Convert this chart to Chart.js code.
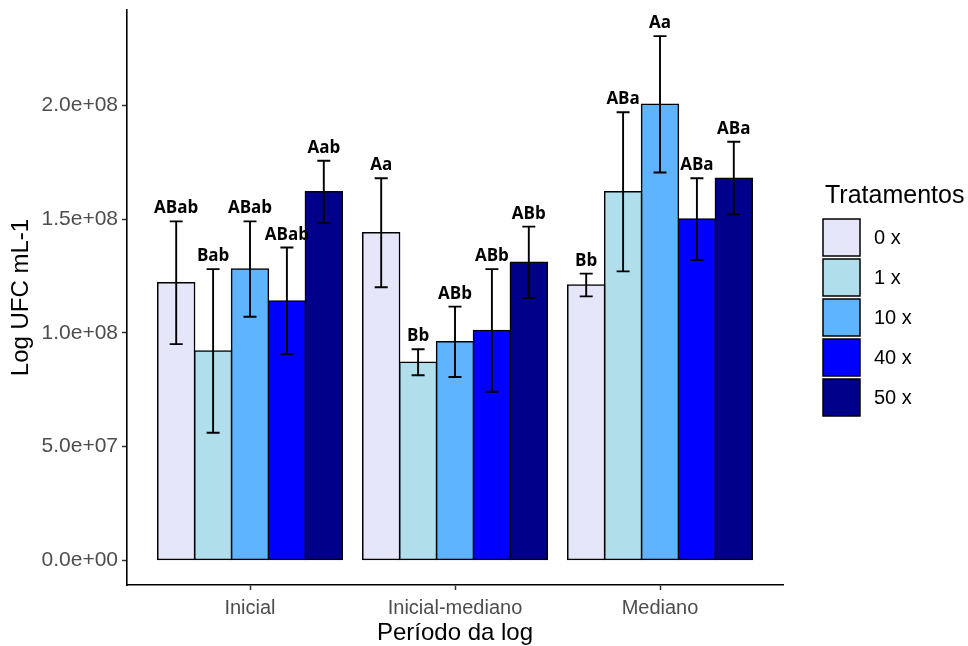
<!DOCTYPE html>
<html lang="pt">
<head>
<meta charset="utf-8">
<title>Log UFC mL-1 por período da log</title>
<script src="https://cdn.jsdelivr.net/npm/chart.js@4.4.1/dist/chart.umd.min.js"></script>
<style>
  html, body { margin: 0; padding: 0; background: #fff; }
  canvas { display: block; }
</style>
</head>
<body>
<canvas id="grafico" width="968" height="646"></canvas>
<script>
const periodos = ['Inicial', 'Inicial-mediano', 'Mediano'];
const tratamentos = ['0 x', '1 x', '10 x', '40 x', '50 x'];
const cores = ['#E6E6FA', '#B0DEEA', '#5EB4FF', '#0000FF', '#00008B'];

// médias por tratamento, na ordem dos períodos
const media0x  = [1.22e8, 1.44e8, 1.21e8];
const media1x  = [0.92e8, 0.87e8, 1.62e8];
const media10x = [1.28e8, 0.96e8, 2.005e8];
const media40x = [1.14e8, 1.01e8, 1.50e8];
const media50x = [1.62e8, 1.31e8, 1.68e8];

// erro padrão
const erro0x  = [0.27e8, 0.24e8, 0.05e8];
const erro1x  = [0.36e8, 0.057e8, 0.35e8];
const erro10x = [0.21e8, 0.155e8, 0.30e8];
const erro40x = [0.235e8, 0.27e8, 0.18e8];
const erro50x = [0.137e8, 0.157e8, 0.16e8];

// letras do teste de médias
const letras0x  = ['ABab', 'Aa', 'Bb'];
const letras1x  = ['Bab', 'Bb', 'ABa'];
const letras10x = ['ABab', 'ABb', 'Aa'];
const letras40x = ['ABab', 'ABb', 'ABa'];
const letras50x = ['Aab', 'ABb', 'ABa'];

const yTicks = [0, 5e7, 1e8, 1.5e8, 2e8];
const yTickLabels = ['0.0e+00', '5.0e+07', '1.0e+08', '1.5e+08', '2.0e+08'];

const medias = [media0x, media1x, media10x, media40x, media50x];
const erros = [erro0x, erro1x, erro10x, erro40x, erro50x];
const letras = [letras0x, letras1x, letras10x, letras40x, letras50x];

const datasets = tratamentos.map((t, i) => ({
  label: t,
  data: medias[i].map((v, j) => ({ x: j, y: v })),
  erros: erros[i],
  letras: letras[i],
  backgroundColor: cores[i],
  borderColor: '#000',
  borderWidth: 1.5,
  borderSkipped: false,
  inflateAmount: 0.75,
  categoryPercentage: 0.9,
  barPercentage: 1
}));

// barras de erro + letras acima de cada barra
const barrasErro = {
  id: 'barrasErro',
  afterDatasetsDraw(chart) {
    const { ctx } = chart;
    const y = chart.scales.y;
    ctx.save();
    ctx.strokeStyle = '#000';
    ctx.lineWidth = 1.9;
    ctx.fillStyle = '#000';
    ctx.font = 'bold 17px "Open Sans"';
    ctx.textAlign = 'center';
    ctx.textBaseline = 'alphabetic';
    chart.data.datasets.forEach((ds, i) => {
      chart.getDatasetMeta(i).data.forEach((bar, j) => {
        const m = ds.data[j].y, e = ds.erros[j];
        const topo = y.getPixelForValue(m + e);
        const base = y.getPixelForValue(m - e);
        ctx.beginPath();
        ctx.moveTo(bar.x, topo); ctx.lineTo(bar.x, base);
        ctx.moveTo(bar.x - 6.5, topo); ctx.lineTo(bar.x + 6.5, topo);
        ctx.moveTo(bar.x - 6.5, base); ctx.lineTo(bar.x + 6.5, base);
        ctx.stroke();
        ctx.fillText(ds.letras[j], bar.x, topo - 8);
      });
    });
    ctx.restore();
  }
};

// legenda à direita no estilo ggplot
const legenda = {
  id: 'legenda',
  afterDraw(chart) {
    const { ctx, chartArea } = chart;
    const x0 = chartArea.right + 40;
    ctx.save();
    ctx.fillStyle = '#000';
    ctx.font = '25px "Liberation Sans", Arial, sans-serif';
    ctx.textAlign = 'left';
    ctx.textBaseline = 'alphabetic';
    ctx.fillText('Tratamentos', x0 + 2, 203);
    ctx.font = '20px "Liberation Sans", Arial, sans-serif';
    ctx.textBaseline = 'middle';
    chart.data.datasets.forEach((ds, i) => {
      const yb = 219 + i * 40;
      ctx.fillStyle = ds.backgroundColor;
      ctx.fillRect(x0, yb, 37, 37);
      ctx.strokeStyle = '#000';
      ctx.lineWidth = 1.5;
      ctx.strokeRect(x0, yb, 37, 37);
      ctx.fillStyle = '#000';
      ctx.fillText(ds.label, x0 + 51, yb + 19);
    });
    ctx.restore();
  }
};

new Chart(document.getElementById('grafico'), {
  type: 'bar',
  data: { datasets },
  plugins: [barrasErro, legenda],
  options: {
    responsive: false,
    animation: false,
    layout: { padding: { top: 10, right: 185, left: 0, bottom: 0 } },
    plugins: { legend: { display: false }, tooltip: { enabled: false } },
    scales: {
      x: {
        type: 'linear',
        min: -0.6,
        max: 2.6,
        offset: false,
        afterBuildTicks: (scale) => { scale.ticks = periodos.map((p, i) => ({ value: i })); },
        afterFit: (scale) => { scale.height = 61; scale.paddingLeft = 0; scale.paddingRight = 0; },
        ticks: {
          callback: (v) => periodos[v],
          color: '#4D4D4D',
          font: { family: '"Liberation Sans", Arial, sans-serif', size: 20 },
          padding: 6,
          maxRotation: 0
        },
        grid: { drawOnChartArea: false, offset: false, color: '#333', tickLength: 5, tickWidth: 1.5 },
        border: { color: '#000', width: 1.6 },
        title: {
          display: true,
          text: 'Período da log',
          color: '#000',
          font: { family: '"Liberation Sans", Arial, sans-serif', size: 24 },
          padding: { top: 0, bottom: -2 }
        }
      },
      y: {
        min: -1.1e7,
        max: 2.42e8,
        afterBuildTicks: (scale) => { scale.ticks = yTicks.map(v => ({ value: v })); },
        afterFit: (scale) => { scale.width = 127; scale.paddingTop = 0; scale.paddingBottom = 0; },
        ticks: {
          callback: (v) => yTickLabels[yTicks.indexOf(v)],
          color: '#4D4D4D',
          font: { family: '"Liberation Sans", Arial, sans-serif', size: 21 },
          padding: 4
        },
        grid: { drawOnChartArea: false, color: '#333', tickLength: 5, tickWidth: 1.5 },
        border: { color: '#000', width: 1.6 },
        title: {
          display: true,
          text: 'Log UFC mL-1',
          color: '#000',
          font: { family: '"Liberation Sans", Arial, sans-serif', size: 24 },
          padding: { top: 7, bottom: 0 }
        }
      }
    }
  }
});
</script>
</body>
</html>
